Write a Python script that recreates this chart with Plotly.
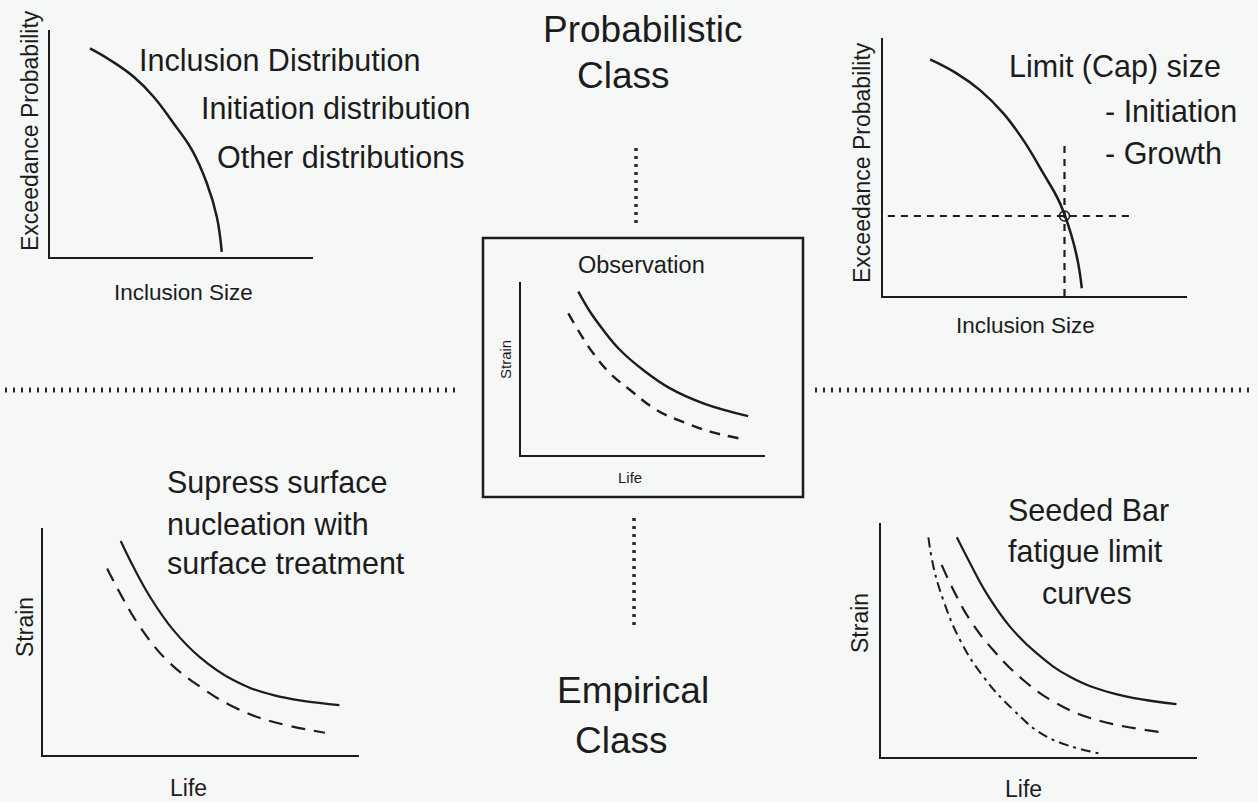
import plotly.graph_objects as go

W, H = 1258, 802

# ---------------- data (schematic curves, units 0-100 per panel) ----------------
# Panel 1: top-left, exceedance probability vs inclusion size
p1_x = [15.2, 22.8, 31.7, 39.3, 46.9, 53.9, 59.6, 63.4, 65.3]
p1_y = [91.9, 86.8, 79.5, 70.7, 59.0, 47.3, 32.6, 17.8, 2.3]

# Panel 2: top-right, exceedance probability with cap size crosshair
p2_x = [15.5, 24.2, 31.9, 39.6, 46.1, 52.7, 58.2, 62.1, 64.2, 65.4]
p2_y = [91.7, 86.3, 79.8, 70.8, 60.5, 47.6, 36.0, 23.0, 12.7, 3.0]
p2_cap_x = [59.7]
p2_cap_y = [31.0]
p2_vline_y = [0.0, 58.5]
p2_hline_x = [1.6, 82.9]

# Panel 3: centre "Observation"
p3_solid_x = [23.5, 28.3, 33.7, 40.6, 50.1, 61.1, 74.7, 93.1]
p3_solid_y = [94.4, 82.8, 72.3, 60.7, 49.1, 38.5, 29.9, 22.5]
p3_dash_x = [19.4, 24.2, 29.6, 36.5, 44.7, 55.6, 67.9, 77.5, 89.1]
p3_dash_y = [81.9, 70.3, 58.8, 47.2, 37.6, 26.0, 18.3, 13.5, 9.7]

# Panel 4: bottom-left, surface treatment
p4_solid_x = [24.6, 28.6, 33.9, 41.2, 49.7, 60.2, 72.9, 93.8]
p4_solid_y = [94.3, 82.9, 69.6, 55.1, 43.0, 33.0, 26.4, 22.0]
p4_dash_x = [20.3, 24.4, 30.7, 39.1, 49.7, 60.2, 70.8, 89.2]
p4_dash_y = [82.2, 71.2, 56.5, 41.9, 30.1, 21.3, 15.4, 9.8]

# Panel 5: bottom-right, seeded bar fatigue limit curves
p5_solid_x = [24.0, 28.2, 33.4, 40.8, 49.3, 59.8, 73.5, 93.5]
p5_solid_y = [93.9, 82.8, 69.9, 55.7, 44.3, 34.3, 27.2, 22.6]
p5_dash_x = [19.2, 22.9, 28.2, 35.5, 45.0, 55.6, 68.3, 88.8]
p5_dash_y = [82.1, 71.4, 58.5, 45.7, 32.9, 22.9, 15.8, 10.6]
p5_dd_x = [15.0, 16.6, 19.7, 25.0, 32.4, 41.9, 52.4, 68.8]
p5_dd_y = [93.9, 81.3, 67.1, 50.0, 34.3, 20.1, 8.7, 1.6]

# panel frames in pixels: (left, right, top, bottom)
frames = {
    1: (50, 313, 30, 257),
    2: (883, 1187, 38, 296),
    3: (521, 765, 282, 455),
    4: (43, 359, 528, 755),
    5: (881, 1197, 523, 757),
}

INK = "#1c1c1c"
BG = "#f6f7f7"
FONT = "Liberation Sans, Arial, Helvetica, sans-serif"

fig = go.Figure()


def ax_names(i):
    return ("x" if i == 1 else f"x{i}"), ("y" if i == 1 else f"y{i}")


def add_line(i, xs, ys, width=2.5, dash="solid"):
    xa, ya = ax_names(i)
    fig.add_trace(go.Scatter(x=xs, y=ys, mode="lines", xaxis=xa, yaxis=ya,
                             line=dict(color=INK, width=width, dash=dash, shape="spline", smoothing=1.2),
                             hoverinfo="skip", showlegend=False))


add_line(1, p1_x, p1_y)
add_line(2, p2_x, p2_y)
xa, ya = ax_names(2)
fig.add_trace(go.Scatter(x=[p2_cap_x[0], p2_cap_x[0]], y=p2_vline_y, mode="lines", xaxis=xa, yaxis=ya,
                         line=dict(color=INK, width=2.2, dash="7px,6px"), hoverinfo="skip", showlegend=False))
fig.add_trace(go.Scatter(x=p2_hline_x, y=[p2_cap_y[0], p2_cap_y[0]], mode="lines", xaxis=xa, yaxis=ya,
                         line=dict(color=INK, width=2.2, dash="7px,6px"), hoverinfo="skip", showlegend=False))
fig.add_trace(go.Scatter(x=p2_cap_x, y=p2_cap_y, mode="markers", xaxis=xa, yaxis=ya,
                         marker=dict(symbol="circle-open", size=10, color=INK, line=dict(width=1.5, color=INK)),
                         hoverinfo="skip", showlegend=False))

add_line(3, p3_solid_x, p3_solid_y, width=2.4)
add_line(3, p3_dash_x, p3_dash_y, width=2.4, dash="11px,8px")

add_line(4, p4_solid_x, p4_solid_y, width=2.2)
add_line(4, p4_dash_x, p4_dash_y, width=2.2, dash="14px,9px")

add_line(5, p5_solid_x, p5_solid_y, width=2.2)
add_line(5, p5_dash_x, p5_dash_y, width=2.2, dash="14px,9px")
add_line(5, p5_dd_x, p5_dd_y, width=2.0, dash="10px,5px,3px,5px")

layout = dict(
    width=W, height=H,
    margin=dict(l=0, r=0, t=0, b=0),
    paper_bgcolor=BG, plot_bgcolor=BG,
    showlegend=False,
    font=dict(family=FONT, color=INK),
)

for i, (l, r, t, b) in frames.items():
    xk = "xaxis" if i == 1 else f"xaxis{i}"
    yk = "yaxis" if i == 1 else f"yaxis{i}"
    common = dict(range=[0, 100], showgrid=False, zeroline=False, showticklabels=False,
                  ticks="", showline=True, linecolor=INK, linewidth=2, fixedrange=True)
    layout[xk] = dict(domain=[l / W, r / W], anchor=("y" if i == 1 else f"y{i}"), **common)
    layout[yk] = dict(domain=[1 - b / H, 1 - t / H], anchor=("x" if i == 1 else f"x{i}"), **common)

fig.update_layout(**layout)


def px(x):
    return x / W


def py(y):
    return 1 - y / H


def note(text, x, y, size, xanchor="center", angle=0):
    fig.add_annotation(text=text, x=px(x), y=py(y), xref="paper", yref="paper",
                       xanchor=xanchor, yanchor="middle", showarrow=False, textangle=angle,
                       font=dict(family=FONT, size=size, color=INK))


# big class titles
note("Probabilistic", 642, 29, 37)
note("Class", 623, 76, 37)
note("Empirical", 633, 690, 37)
note("Class", 621, 740, 37)

# panel 1
note("Inclusion Distribution", 137, 60, 30.5, "left")
note("Initiation distribution", 199, 108, 30.5, "left")
note("Other distributions", 215, 157, 30.5, "left")
note("Exceedance Probability", 30, 131, 23, angle=-90)
note("Inclusion Size", 183, 293, 22.5)

# panel 2
note("Limit (Cap) size", 1007, 67, 30.5, "left")
note("- Initiation", 1103, 111, 30.5, "left")
note("- Growth", 1103, 153, 30.5, "left")
note("Exceedance Probability", 862, 163, 23, angle=-90)
note("Inclusion Size", 1025, 325, 22.5)

# centre panel
note("Observation", 641, 265, 23.5)
note("Strain", 505, 360, 15, angle=-90)
note("Life", 630, 478, 15)

# panel 4
note("Supress surface", 165, 483, 30.5, "left")
note("nucleation with", 165, 524, 30.5, "left")
note("surface treatment", 165, 563, 30.5, "left")
note("Strain", 25, 627, 23, angle=-90)
note("Life", 188, 788, 23)

# panel 5
note("Seeded Bar", 1088, 510, 30.5)
note("fatigue limit", 1085, 551, 30.5)
note("curves", 1087, 593, 30.5)
note("Strain", 860, 623, 23, angle=-90)
note("Life", 1023, 789, 23)

# observation frame
fig.add_shape(type="rect", xref="paper", yref="paper",
              x0=px(483), x1=px(803), y0=py(497), y1=py(238),
              line=dict(color=INK, width=2.5), fillcolor="rgba(0,0,0,0)", layer="below")

# dotted separators
sep = dict(color="#2a2a2a", width=5, dash="2px,6px")
fig.add_shape(type="line", xref="paper", yref="paper", x0=px(5), x1=px(458), y0=py(390), y1=py(390), line=sep)
fig.add_shape(type="line", xref="paper", yref="paper", x0=px(815), x1=px(1252), y0=py(390), y1=py(390), line=sep)
vsep = dict(color="#2a2a2a", width=3.5, dash="3px,5px")
fig.add_shape(type="line", xref="paper", yref="paper", x0=px(636), x1=px(636), y0=py(148), y1=py(225), line=vsep)
fig.add_shape(type="line", xref="paper", yref="paper", x0=px(634), x1=px(634), y0=py(518), y1=py(626), line=vsep)

fig.write_html(
    "out.html",
    config={"displayModeBar": False},
    post_script="document.body.style.margin='0px';document.body.style.background='#f6f7f7';document.body.style.overflow='hidden';",
)
